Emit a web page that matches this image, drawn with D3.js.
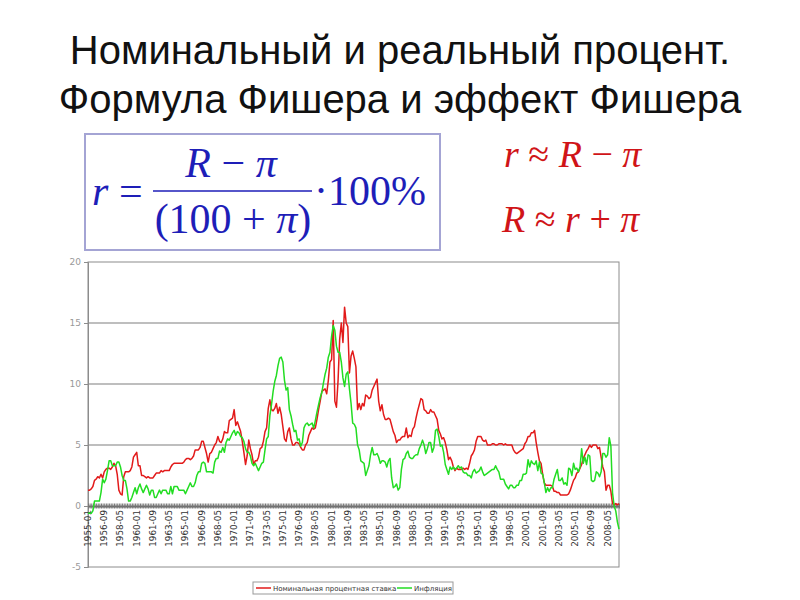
<!DOCTYPE html>
<html><head><meta charset="utf-8">
<script src="https://cdn.jsdelivr.net/npm/d3@7"></script>
<style>body{margin:0;background:#fff}svg{display:block}</style>
</head><body>
<svg id="c" width="800" height="600"></svg>
<script>
// ---- DATA ----
const titleLines = ["Номинальный и реальный процент.", "Формула Фишера и эффект Фишера"];
const seriesNames = ["Номинальная процентная ставка", "Инфляция"];
const yTicks = [-5, 0, 5, 10, 15, 20];
const tickLabels = ["1955-01","1956-09","1958-05","1960-01","1961-09","1963-05","1965-01","1966-09","1968-05","1970-01","1971-09","1973-05","1975-01","1976-09","1978-05","1980-01","1981-09","1983-05","1985-01","1986-09","1988-05","1990-01","1991-09","1993-05","1995-01","1996-09","1998-05","2000-01","2001-09","2003-05","2005-01","2006-09","2008-05"];
const startMonth = "1955-01";  // bi-monthly observations
const nominal = [
 1.3,1.3,1.4,1.6,2.1,2.2, 2.4,2.3,2.6,2.3,2.8,3.0, 3.1,3.1,3.0,3.2,3.5,3.3, 2.6,1.3,1.0,0.9,2.4,2.8,
 2.8,2.8,2.9,3.2,4.0,4.2, 4.4,3.3,3.3,2.5,2.5,2.4, 2.3,2.4,2.3,2.3,2.3,2.5, 2.7,2.7,2.7,2.9,2.8,2.9,
 2.9,2.9,2.9,3.2,3.4,3.5, 3.5,3.5,3.5,3.5,3.5,3.6, 3.8,3.9,3.9,3.8,3.9,4.1, 4.6,4.6,4.6,4.8,5.3,5.3,
 4.8,4.3,3.6,4.3,4.4,4.7, 5.0,5.2,5.7,5.3,5.2,5.5, 6.1,6.0,6.0,7.0,7.1,7.2, 7.9,6.6,6.9,6.5,6.1,5.3,
 4.4,3.4,4.1,5.4,4.7,4.2, 3.4,3.7,3.7,4.0,4.7,4.8, 5.3,6.1,6.4,8.0,8.7,7.9, 7.8,8.0,8.4,7.6,8.1,7.5,
 6.5,5.5,5.3,6.1,6.4,5.5, 5.0,5.0,5.2,5.2,5.1,4.8, 4.6,4.6,5.0,5.2,5.8,6.1, 6.4,6.3,6.4,7.1,7.9,8.6,
 9.4,9.5,9.6,9.2,10.3,11.8, 12.0,15.2,8.6,8.1,10.3,13.7, 15.0,13.4,16.3,15.0,14.7,10.9, 12.3,12.7,12.1,11.4,7.9,8.4,
 7.9,8.4,8.2,9.1,9.0,8.8, 8.9,9.5,9.8,10.1,10.4,8.6, 7.8,8.3,7.5,7.1,7.1,7.2, 7.1,6.6,6.1,5.8,5.2,5.4,
 5.4,5.6,5.7,5.7,6.4,5.6, 5.8,5.7,6.3,6.5,7.2,7.8, 8.3,8.8,8.7,7.9,7.8,7.6, 7.6,7.9,7.7,7.7,7.4,7.1,
 6.2,5.9,5.5,5.6,5.2,4.6, 3.8,4.0,3.7,3.2,2.9,3.1, 3.0,3.0,3.0,3.1,3.0,3.1, 3.0,3.5,4.1,4.3,4.6,5.3,
 5.7,5.7,5.7,5.4,5.3,5.4, 5.0,5.0,5.0,5.1,5.1,5.0, 5.0,5.1,5.1,5.1,5.0,5.1, 5.0,5.0,5.0,5.0,4.6,4.4,
 4.3,4.4,4.5,4.6,4.7,5.1, 5.3,5.7,5.7,6.0,6.0,6.2, 5.2,4.4,3.7,3.5,2.6,1.9, 1.7,1.7,1.7,1.7,1.6,1.2,
 1.2,1.1,1.1,0.9,0.9,0.9, 0.9,0.9,1.0,1.3,1.7,2.1, 2.3,2.7,2.8,3.1,3.4,3.9, 4.2,4.5,4.7,5.0,4.8,5.0,
 5.0,5.0,4.7,4.8,4.0,3.2, 2.8,1.3,1.7,1.7,1.2,0.2, 0.1,0.2,0.1,0.2
];
const inflation = [
 -0.6,-0.6,-0.6,-0.4,0.4,0.4, 0.4,0.4,1.1,2.2,1.9,2.2, 2.9,3.7,3.7,3.3,3.3,3.3, 3.6,3.6,3.2,2.5,2.1,2.1,
 1.4,0.4,0.4,0.7,1.1,1.5, 1.0,1.5,1.8,1.4,1.1,1.4, 1.7,1.4,0.9,1.3,1.3,0.7, 0.7,1.0,1.3,1.0,1.3,1.3,
 1.3,1.0,1.0,1.6,1.0,1.6, 1.6,1.6,1.3,1.3,1.3,1.3, 1.0,1.3,1.6,1.9,1.6,1.6, 1.9,2.5,2.8,2.8,3.5,3.6,
 3.5,2.8,2.8,2.8,2.8,2.7, 3.6,3.9,3.9,4.5,4.4,4.8, 4.4,5.2,5.5,5.4,5.7,6.0, 6.2,5.8,6.1,6.0,5.7,5.6,
 5.3,4.7,4.4,4.4,4.1,3.5, 3.3,3.5,3.2,2.9,3.2,3.5, 3.6,4.6,5.5,5.7,7.4,8.3, 9.4,10.2,10.7,11.5,12.1,12.2,
 11.8,10.3,9.5,9.7,7.9,7.4, 6.7,6.1,6.2,5.4,5.5,4.9, 5.2,6.4,6.7,6.8,6.6,6.7, 6.8,6.4,7.0,7.7,8.3,8.9,
 9.3,10.1,10.8,11.3,12.2,12.6, 13.9,14.8,14.4,13.1,12.6,12.6, 11.8,10.5,9.8,10.8,11.0,9.6, 8.4,6.8,6.7,6.4,5.0,4.6,
 3.7,3.6,3.5,2.5,2.9,3.3, 4.2,4.8,4.2,4.2,4.3,4.0, 3.5,3.7,3.7,3.6,3.2,3.7, 3.9,2.3,1.5,1.6,1.8,1.3,
 1.5,3.0,3.8,3.9,4.3,4.5, 4.0,3.9,3.9,4.1,4.2,4.2, 4.7,5.0,5.4,5.0,4.3,4.7, 5.2,5.2,4.4,4.8,6.2,6.3,
 5.7,4.9,5.0,4.4,3.4,3.0, 2.6,3.2,3.0,3.2,3.0,3.1, 3.3,3.1,3.2,2.8,2.7,2.7, 2.5,2.5,2.3,2.8,3.0,2.7,
 2.8,2.9,3.2,2.8,2.5,2.6, 2.7,2.8,2.9,3.0,3.0,3.3, 3.0,2.8,2.2,2.2,2.2,1.8, 1.6,1.4,1.7,1.7,1.5,1.5,
 1.7,1.7,2.1,2.1,2.6,2.6, 2.7,3.8,3.2,3.7,3.5,3.4, 3.7,2.9,3.6,2.7,2.6,1.9, 1.1,1.5,1.2,1.5,1.5,2.2,
 2.6,3.0,2.1,2.1,2.3,1.8, 1.9,1.7,3.1,3.0,2.5,3.5, 3.0,3.1,2.8,3.2,4.7,3.5, 4.0,3.4,4.2,4.1,2.1,2.0,
 2.1,2.8,2.7,2.4,2.8,4.3, 4.3,4.0,4.2,5.6,4.9,1.1, 0.0,-0.4,-1.3,-1.9
];

// ---- CHART ----
const svg = d3.select("#c");
const t0 = d3.timeParse("%Y-%m")(startMonth);
const fmt = d3.timeFormat("%Y-%m");
const categories = nominal.map((_, i) => fmt(d3.timeMonth.offset(t0, i * 2)));

// Title
svg.append("g").selectAll("text").data(titleLines).join("text")
  .attr("x", 400).attr("y", (d, i) => 64 + i * 49)
  .attr("text-anchor", "middle")
  .style("font-family", "Liberation Sans, Arial, sans-serif")
  .style("font-size", "40px").style("fill", "#111")
  .text(d => d);

// Formula box
const fb = svg.append("g");
fb.append("rect").attr("x", 85).attr("y", 134).attr("width", 355).attr("height", 116)
  .attr("fill", "#fff").attr("stroke", "#a4a4d4").attr("stroke-width", 2);
const blue = "#1e1eb8";
const serif = "Liberation Serif, Times New Roman, serif";
function mt(g, x, y, parts, size, color, anchor) {
  const t = g.append("text").attr("x", x).attr("y", y)
    .attr("text-anchor", anchor || "start")
    .style("font-family", serif).style("font-size", size + "px").style("fill", color);
  parts.forEach(p => t.append("tspan").style("font-style", p[1] ? "italic" : "normal").text(p[0]));
  return t;
}
mt(fb, 92, 205, [["r", 1]], 42, blue);
mt(fb, 119, 205, [["=", 0]], 42, blue);
fb.append("line").attr("x1", 153).attr("x2", 312).attr("y1", 191).attr("y2", 191)
  .attr("stroke", blue).attr("stroke-width", 1.5);
mt(fb, 231, 177, [["R", 1], [" − ", 0], ["π", 1]], 42, blue, "middle");
mt(fb, 233, 233, [["(100 + ", 0], ["π", 1], [")", 0]], 42, blue, "middle");
mt(fb, 314, 205, [["·100%", 0]], 42, blue);

// Red formulas
const red = "#d01418";
mt(svg, 504, 167, [["r", 1], [" ≈ ", 0], ["R", 1], [" − ", 0], ["π", 1]], 38, red);
mt(svg, 502, 232, [["R", 1], [" ≈ ", 0], ["r", 1], [" + ", 0], ["π", 1]], 38, red);

// Plot
const L = 88, R = 619, T = 262, B = 567;
const x = d3.scalePoint().domain(categories).range([L, R]);
const y = d3.scaleLinear().domain([-5, 20]).range([B, T]);
const g = svg.append("g");

g.append("rect").attr("x", L).attr("y", T).attr("width", R - L).attr("height", B - T)
  .attr("fill", "#fff").attr("stroke", "#8c8c8c").attr("stroke-width", 1);
g.selectAll("line.grid").data([5, 10, 15]).join("line").attr("class", "grid")
  .attr("x1", L).attr("x2", R).attr("y1", d => y(d)).attr("y2", d => y(d))
  .attr("stroke", "#a8a8a8").attr("stroke-width", 1.3);

// Y axis
const ya = g.append("g").attr("transform", `translate(${L},0)`)
  .call(d3.axisLeft(y).tickValues(yTicks).tickSize(4).tickFormat(d => String(d)));
ya.select(".domain").attr("stroke", "#8c8c8c");
ya.selectAll(".tick line").attr("stroke", "#8c8c8c");
ya.selectAll(".tick text").attr("fill", "#999").style("font-size", "9px")
  .style("font-family", "DejaVu Sans, sans-serif").attr("x", -7);

// X axis at zero
const xa = g.append("g").attr("transform", `translate(0,${y(0)})`)
  .call(d3.axisBottom(x).tickSizeInner(2).tickSizeOuter(0).tickFormat(""));
xa.select(".domain").attr("stroke", "#6a6a6a").attr("stroke-width", 2);
xa.selectAll(".tick line").attr("stroke", "#777").attr("y1", -2.5).attr("y2", 2.5);
xa.selectAll(".tick text").remove();
g.append("g").selectAll("text").data(tickLabels).join("text")
  .attr("transform", d => `translate(${x(d) + 3},${y(0) + 4}) rotate(-90)`)
  .attr("text-anchor", "end")
  .style("font-family", "DejaVu Sans, sans-serif").style("font-size", "8.8px").style("fill", "#333")
  .text(d => d);

// Lines
const line = d3.line().x((d, i) => x(categories[i])).y(d => y(d));
g.append("path").datum(nominal).attr("d", line).attr("fill", "none")
  .attr("stroke", "#e21a1a").attr("stroke-width", 1.5).attr("stroke-linejoin", "round");
g.append("path").datum(inflation).attr("d", line).attr("fill", "none")
  .attr("stroke", "#22dd22").attr("stroke-width", 1.5).attr("stroke-linejoin", "round");

// Legend
const lg = svg.append("g");
lg.append("rect").attr("x", 253).attr("y", 582).attr("width", 200).attr("height", 12)
  .attr("fill", "#fff").attr("stroke", "#999");
const legItems = [{ n: seriesNames[0], c: "#e21a1a", x: 256 }, { n: seriesNames[1], c: "#22dd22", x: 397 }];
legItems.forEach(it => {
  lg.append("line").attr("x1", it.x).attr("x2", it.x + 15).attr("y1", 588).attr("y2", 588)
    .attr("stroke", it.c).attr("stroke-width", 1.5);
  lg.append("text").attr("x", it.x + 17).attr("y", 590.5)
    .style("font-family", "DejaVu Sans, sans-serif").style("font-size", "7px").style("fill", "#333")
    .text(it.n);
});
</script>
</body></html>
